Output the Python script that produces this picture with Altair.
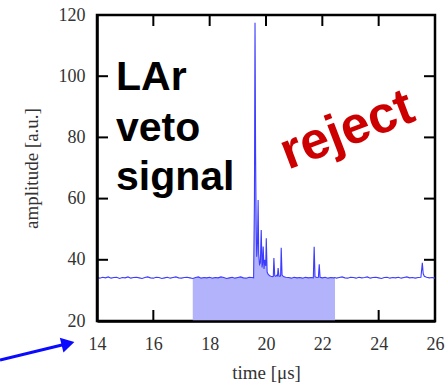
import altair as alt
import pandas as pd

# Digitised waveform: time in microseconds, amplitude in arbitrary units
time_us = [
    14.00, 14.10, 14.20, 14.30, 14.40, 14.50, 14.60, 14.70, 14.80, 14.90,
    15.00, 15.10, 15.20, 15.30, 15.40, 15.50, 15.60, 15.70, 15.80, 15.90,
    16.00, 16.10, 16.20, 16.30, 16.40, 16.50, 16.60, 16.70, 16.80, 16.90,
    17.00, 17.10, 17.20, 17.30, 17.40, 17.50, 17.60, 17.70, 17.80, 17.90,
    18.00, 18.10, 18.20, 18.30, 18.40, 18.50, 18.60, 18.70, 18.80, 18.90,
    19.00, 19.10, 19.20, 19.30, 19.40, 19.50, 19.56,
    19.59, 19.61, 19.63, 19.65, 19.67, 19.70, 19.72, 19.74, 19.77, 19.80,
    19.83, 19.86, 19.88, 19.90, 19.93, 19.96, 19.99, 20.01, 20.04, 20.08,
    20.13, 20.18, 20.23, 20.26, 20.28, 20.31, 20.35, 20.39, 20.41, 20.43,
    20.46, 20.50, 20.52, 20.54, 20.57, 20.62, 20.70,
    20.80, 20.90, 21.00, 21.10, 21.20, 21.30, 21.40, 21.50, 21.60,
    21.68, 21.71, 21.74, 21.80, 21.86, 21.89, 21.92, 22.00,
    22.10, 22.20, 22.30, 22.40, 22.45, 22.50,
    22.60, 22.70, 22.80, 22.90, 23.00, 23.10, 23.20, 23.30, 23.40, 23.50,
    23.60, 23.70, 23.80, 23.90, 24.00, 24.10, 24.20, 24.30, 24.40, 24.50,
    24.60, 24.70, 24.80, 24.90, 25.00, 25.10, 25.20, 25.30, 25.40,
    25.50, 25.55, 25.58, 25.62, 25.70, 25.80, 25.90, 26.00,
]
amplitude = [
    34.2, 34.0, 34.3, 34.1, 34.4, 34.0, 34.2, 34.3, 33.9, 34.2,
    34.1, 34.4, 34.0, 34.2, 34.3, 34.1, 33.9, 34.2, 34.4, 34.1,
    34.0, 34.3, 34.2, 33.9, 34.1, 34.3, 34.0, 34.2, 34.4, 34.1,
    34.0, 34.2, 34.3, 34.1, 33.9, 34.2, 34.4, 34.0, 34.2, 34.1,
    34.3, 34.0, 34.2, 34.1, 34.4, 34.2, 33.9, 34.1, 34.3, 34.0,
    34.2, 34.4, 34.1, 34.0, 34.3, 34.2, 34.1,
    60.0, 117.5, 75.0, 52.0, 41.0, 46.0, 59.5, 42.0, 38.5, 39.0,
    49.7, 37.5, 39.0, 44.3, 37.0, 40.0, 38.0, 47.0, 36.0, 35.2,
    34.8, 34.6, 34.5, 34.6, 40.6, 34.8, 34.6, 35.0, 34.8, 37.3,
    34.7, 34.6, 35.0, 43.9, 35.0, 34.5, 34.3,
    34.2, 34.0, 34.3, 34.1, 34.2, 34.0, 34.3, 34.1, 34.2,
    34.1, 44.3, 34.5, 34.2, 34.3, 38.5, 34.3, 34.1,
    34.3, 34.0, 34.2, 34.1, 34.2, 34.0,
    34.2, 34.4, 34.1, 34.0, 34.3, 34.2, 34.0, 34.3, 34.1, 34.2,
    34.4, 34.0, 34.2, 34.3, 34.1, 33.9, 34.2, 34.3, 34.0, 34.2,
    34.1, 34.3, 34.0, 34.2, 34.4, 34.1, 34.2, 34.0, 34.2,
    34.3, 39.0, 35.5, 34.6, 34.3, 34.1, 34.2, 34.0,
]

x_ticks = [14, 16, 18, 20, 22, 24, 26]
y_ticks = [20, 40, 60, 80, 100, 120]

# Integration window under the pulse
window_start = 17.4
window_end = 22.45

W, H = 338, 306
SERIF = "Liberation Serif"
SANS = "Liberation Sans"

wave = pd.DataFrame({"t": time_us, "a": amplitude})
xt = pd.DataFrame({"v": x_ticks})
yt = pd.DataFrame({"v": y_ticks})

xs = alt.Scale(domain=[14, 26], nice=False, zero=False)
ys = alt.Scale(domain=[20, 120], nice=False, zero=False)

x_axis = alt.Axis(
    values=x_ticks, title="time [μs]", ticks=False, grid=False,
    domain=True, domainColor="black", domainWidth=2.5, zindex=1,
    labelFont=SERIF, labelFontSize=18, labelColor="#333333", labelPadding=14,
    labelFlush=False, labelOverlap=False,
    titleFont=SERIF, titleFontSize=19, titleFontWeight="normal", titleColor="#333333",
    titleBaseline="alphabetic", titleY=57,
)
y_axis = alt.Axis(
    values=y_ticks, title="amplitude [a.u.]", ticks=False, grid=False,
    domain=True, domainColor="black", domainWidth=2.5, zindex=1,
    labelFont=SERIF, labelFontSize=18, labelColor="#333333", labelPadding=12,
    labelFlush=False, labelOverlap=False,
    titleFont=SERIF, titleFontSize=19, titleFontWeight="normal", titleColor="#333333",
    titleBaseline="alphabetic", titleX=-60, titleY=H / 2, titleAngle=270,
)

X = alt.X("t:Q", scale=xs, axis=x_axis)
Y = alt.Y("a:Q", scale=ys, axis=y_axis)
XT = alt.X("v:Q", scale=xs, axis=x_axis)
YT = alt.Y("v:Q", scale=ys, axis=y_axis)

# Inward tick marks on all four sides
tick_style = dict(color="black", strokeWidth=2)
ticks_bottom = alt.Chart(xt).mark_rule(**tick_style).encode(
    x=XT, y=alt.value(H), y2=alt.value(H - 11))
ticks_top = alt.Chart(xt).mark_rule(**tick_style).encode(
    x=XT, y=alt.value(0), y2=alt.value(11))
ticks_left = alt.Chart(yt).mark_rule(**tick_style).encode(
    y=YT, x=alt.value(0), x2=alt.value(11))
ticks_right = alt.Chart(yt).mark_rule(**tick_style).encode(
    y=YT, x=alt.value(W), x2=alt.value(W - 11))

window = alt.Chart(wave).transform_filter(
    (alt.datum.t >= window_start) & (alt.datum.t <= window_end)
).mark_area(color="#b3b3fb", opacity=1, interpolate="linear").encode(
    x=X, y=Y, y2=alt.datum(20),
)

line = alt.Chart(wave).mark_line(color="#3c3cff", strokeWidth=1.1).encode(x=X, y=Y)

label_style = dict(font=SANS, fontSize=41, fontWeight="bold", color="black",
                   align="left", baseline="alphabetic")
lar = alt.Chart().mark_text(text="LAr", **label_style).encode(
    x=alt.value(19), y=alt.value(75))
veto = alt.Chart().mark_text(text="veto", **label_style).encode(
    x=alt.value(19), y=alt.value(125.7))
signal = alt.Chart().mark_text(text="signal", **label_style).encode(
    x=alt.value(19), y=alt.value(175))

reject = alt.Chart().mark_text(
    text="reject", font=SANS, fontSize=52, fontWeight="bold", color="#cc0000",
    align="center", baseline="middle", angle=339,
).encode(x=alt.value(250), y=alt.value(115))

# Arrow pointing at the first time label
arrow_shaft = alt.Chart().mark_rule(color="#0a0aff", strokeWidth=3).encode(
    x=alt.value(-97), x2=alt.value(-33), y=alt.value(345), y2=alt.value(329.5))
arrow_head = alt.Chart().mark_point(
    shape="triangle-right", filled=True, color="#0a0aff", size=230,
    angle=346, opacity=1,
).encode(x=alt.value(-29), y=alt.value(328.5))

chart = alt.layer(
    ticks_bottom, ticks_top, ticks_left, ticks_right,
    window, line, lar, veto, signal, reject, arrow_shaft, arrow_head,
).properties(
    width=W, height=H,
    background="white",
    autosize=alt.AutoSizeParams(type="none"),
    padding={"left": 97, "top": 15, "right": 12, "bottom": 63},
).configure_view(
    stroke="black", strokeWidth=2.5,
)

chart.save("out.html", embed_options={"renderer": "svg", "actions": False})
